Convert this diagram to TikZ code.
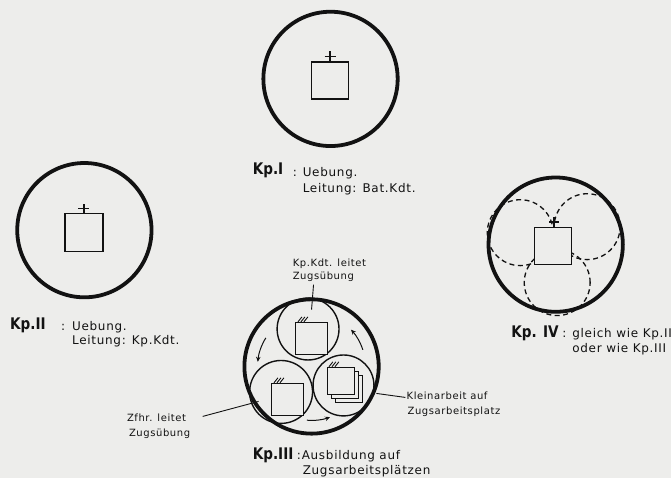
\documentclass[tikz,border=0pt]{standalone}
\usepackage{fontspec}
\setmainfont{DejaVu Sans}
\newfontfamily\kpfont[FakeStretch=0.85]{DejaVu Sans}
\newfontfamily\txtfont[LetterSpace=6]{DejaVu Sans}
\usetikzlibrary{arrows.meta}
\definecolor{paper}{RGB}{237,237,235}
\definecolor{ink}{RGB}{18,18,18}
\begin{document}
\begin{tikzpicture}[x=1pt,y=-1pt,
  every node/.style={text=ink},
  company/.style={circle, draw=ink, line width=3.8pt, minimum size=134.5pt, inner sep=0pt},
  platoon/.style={circle, draw=ink, line width=1.4pt, minimum size=#1, inner sep=0pt},
  dashplatoon/.style={circle, draw=ink, dash pattern=on 5pt off 3.5pt, line width=1.3pt, minimum size=66pt, inner sep=0pt},
  sq/.style={rectangle, draw=ink, line width=1.3pt, minimum size=#1, inner sep=0pt, fill=paper},
  kp/.style={anchor=base west, inner sep=0pt, font=\kpfont\bfseries\fontsize{16}{16}\selectfont},
  txt/.style={anchor=base west, inner sep=0pt, font=\txtfont\fontsize{12}{12}\selectfont},
  small/.style={anchor=base west, inner sep=0pt, font=\txtfont\fontsize{10}{10}\selectfont},
  leader/.style={draw=ink, line width=0.9pt},
  cross/.style={draw=ink, line width=1.5pt},
  hatch/.style={draw=ink, line width=0.9pt},
  arr/.style={draw=ink, line width=1pt, -{Stealth[length=5pt,width=4.5pt]}}
]
\fill[paper] (0,0) rectangle (672,479);

% ---------- Kp I ----------
\node[company] (c1) at (331,79) {};
\node[sq=37pt] (s1) at (330.5,80.5) {};
\draw[cross] (s1.north) -- ++(0,-10);
\draw[cross] ([shift={(-5.5,-5)}]s1.north) -- ++(11,0);
\node[kp] (k1) at (253,175) {Kp.I};
\node[txt] (k1c) at (293,177) {:};
\node[txt] (k1a) at (303,177) {Uebung.};
\node[txt] (k1b) at (303,193) {Leitung: Bat.Kdt.};

% ---------- Kp II ----------
\node[company] (c2) at (84.5,230.5) {};
\node[sq=38pt] (s2) at (84,233) {};
\draw[cross] (s2.north) -- ++(0,-9);
\draw[cross] ([shift={(-5.5,-4.5)}]s2.north) -- ++(11,0);
\node[kp] (k2) at (10,330) {Kp.II};
\node[txt] (k2c) at (61,331) {:};
\node[txt] (k2a) at (72,331) {Uebung.};
\node[txt] (k2b) at (72,345) {Leitung: Kp.Kdt.};

% ---------- Kp IV ----------
\node[company] (c4) at (556.5,245) {};
\node[dashplatoon] (d1) at (521,233) {};
\node[dashplatoon] (d2) at (588,227) {};
\node[dashplatoon] (d3) at (558,283) {};
\node[sq=37pt] (s4) at (553.5,246.5) {};
\draw[cross] ([xshift=1.5pt]s4.north) -- ++(0,-10);
\draw[cross] ([shift={(-3.5,-5)}]s4.north) -- ++(10,0);
\node[kp] (k4) at (512,338) {Kp. IV};
\node[txt] (k4c) at (563,338) {:};
\node[txt] (k4a) at (573,338) {gleich wie Kp.II};
\node[txt] (k4b) at (573,353) {oder wie Kp.III};

% ---------- Kp III ----------
\node[company] (c3) at (312,367) {};
\node[platoon=62pt] (p1) at (308.5,329.5) {};
\node[platoon=63pt] (p2) at (281.5,392.5) {};
\node[platoon=61pt] (p3) at (344,386) {};
\node[sq=32pt] (q1) at (312,339) {};
\node[sq=32pt] (q2) at (288,400) {};
\node[sq=27pt] (q3c) at (349.5,389.5) {};
\node[sq=27pt] (q3b) at (345.5,385.5) {};
\node[sq=27pt] (q3a) at (341.5,381.5) {};
\foreach \i in {0,1,2} {
  \draw[hatch] ([xshift={(3+3*\i)*1pt}]q1.north west) -- ++(4,-5);
  \draw[hatch] ([xshift={(3+3*\i)*1pt}]q2.north west) -- ++(4,-5);
  \draw[hatch] ([xshift={(2+3*\i)*1pt}]q3a.north west) -- ++(4,-5);
}
\draw[arr] ([shift={(-148:54)}]c3.center) arc[start angle=-148, end angle=-175, radius=54];
\draw[arr] ([shift={(-265:54)}]c3.center) arc[start angle=-265, end angle=-290, radius=54];
\draw[arr] ([shift={(-18:54)}]c3.center) arc[start angle=-18, end angle=-43, radius=54];

\node[small] (t1a) at (293,267) {Kp.Kdt. leitet};
\node[small] (t1b) at (293,280) {Zugsübung};
\coordinate (l1s) at (314,285);
\coordinate (l1e) at (312,310);
\draw[leader] (l1s) -- (l1e);

\node[small] (t2a) at (127,422) {Zfhr. leitet};
\node[small] (t2b) at (129,437) {Zugsübung};
\coordinate (l2s) at (203,417);
\coordinate (l2e) at (259,402);
\draw[leader] (l2s) -- (l2e);

\node[small] (t3a) at (407,400) {Kleinarbeit auf};
\node[small] (t3b) at (408,415) {Zugsarbeitsplatz};
\coordinate (l3s) at (377,394);
\coordinate (l3e) at (406,398);
\draw[leader] (l3s) -- (l3e);

\node[kp] (k3) at (253,460) {Kp.III};
\node[txt] (k3c) at (297,460) {:};
\node[txt] (k3a) at (302,460) {Ausbildung auf};
\node[txt] (k3b) at (303,475) {Zugsarbeitsplätzen};
\end{tikzpicture}
\end{document}
